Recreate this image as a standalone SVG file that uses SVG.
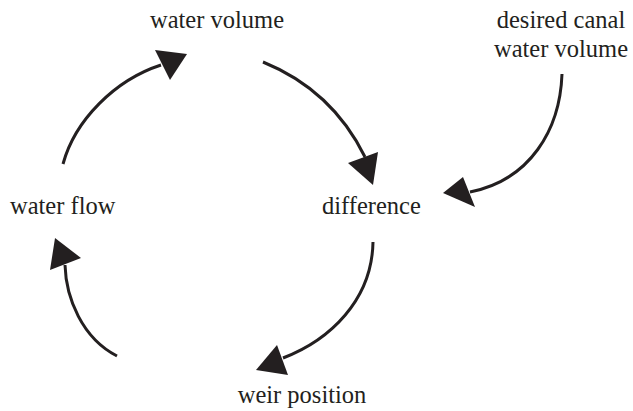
<svg xmlns="http://www.w3.org/2000/svg" width="633" height="411" viewBox="0 0 633 411">
<style>
.t{font-family:'Liberation Serif','Times New Roman',serif;font-size:24.5px;fill:#231f20}
.c{fill:none;stroke:#231f20;stroke-width:3}
.h{fill:#231f20;stroke:none}
</style>
<rect width="633" height="411" fill="#fff"/>
<g id="water-volume"><text class="t" x="217" y="28" text-anchor="middle">water volume</text></g>
<g id="desired-canal-water-volume"><text class="t" x="561" y="28" text-anchor="middle">desired canal</text><text class="t" x="561" y="57" text-anchor="middle">water volume</text></g>
<g id="water-flow"><text class="t" x="10" y="214">water flow</text></g>
<g id="difference"><text class="t" x="322" y="214">difference</text></g>
<g id="weir-position"><text class="t" x="302" y="403" text-anchor="middle">weir position</text></g>
<g id="connectors">
<path class="c" d="M263,62 Q332,90 365,157"/>
<polygon class="h" points="373,185 348,163 378,152"/>
<path class="c" d="M562,74 C560,130 530,180 470,192"/>
<polygon class="h" points="443,193 463,177 475,207"/>
<path class="c" d="M373,242 C372,300 330,340 283,358"/>
<polygon class="h" points="256,370 277,345 288,375"/>
<path class="c" d="M117,356 C82,338 66,298 65,265"/>
<polygon class="h" points="55,238 81,258 50,270"/>
<path class="c" d="M63,164 C75,120 115,80 161,65"/>
<polygon class="h" points="187,54 155,50 170,80"/>
</g>
</svg>
